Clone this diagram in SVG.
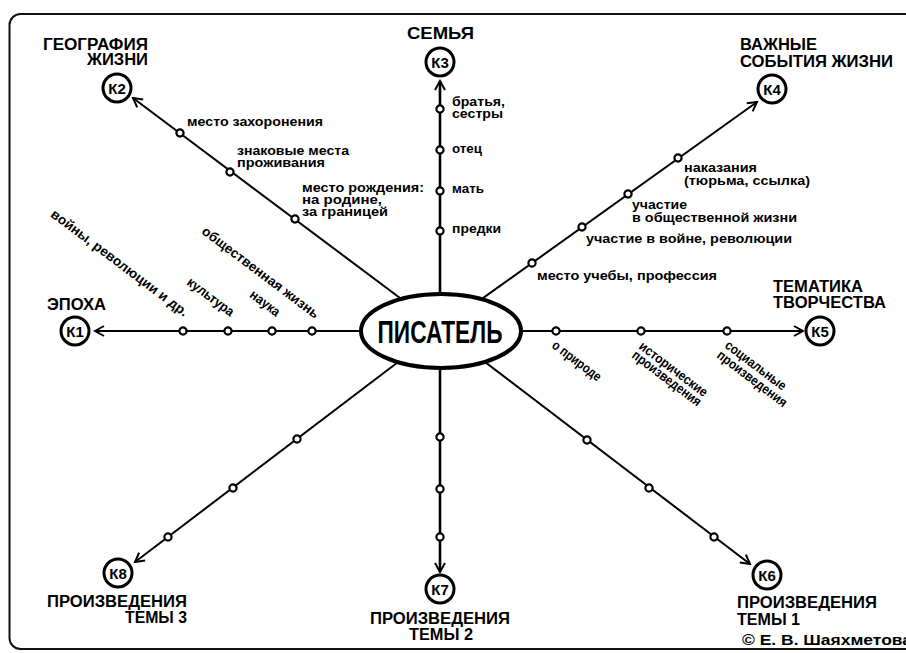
<svg xmlns="http://www.w3.org/2000/svg" width="906" height="653" viewBox="0 0 906 653">
<defs>
<marker id="arr" viewBox="0 0 12 12" refX="10" refY="6" markerWidth="12" markerHeight="12" markerUnits="userSpaceOnUse" orient="auto">
<path d="M1,1 L10,6 L1,11" fill="none" stroke="#000" stroke-width="2"/>
</marker>
<style>
text{font-family:"Liberation Sans",Arial,sans-serif;font-weight:bold;fill:#000}
.lbl{font-size:13px}
.rl{font-size:13.5px}
.hd{font-size:16px}
.kt{font-size:15px;text-anchor:middle}
.k{fill:#fff;stroke:#000;stroke-width:3}
.pt{fill:#fff;stroke:#000;stroke-width:2.2}
.conn line{stroke:#000;stroke-width:2;marker-end:url(#arr)}
.end{text-anchor:end}
.mid{text-anchor:middle}
</style>
</defs>
<rect x="9.5" y="14" width="940" height="635" rx="11" fill="#fff" stroke="#111" stroke-width="2"/>

<g id="connectors" class="conn">
<line x1="370" y1="331" x2="95" y2="331"/>
<line x1="410" y1="305.5" x2="133" y2="98"/>
<line x1="440" y1="300" x2="440" y2="81" style="stroke-width:2.6"/>
<line x1="470" y1="307.4" x2="757" y2="102"/>
<line x1="515" y1="331" x2="803" y2="331"/>
<line x1="470" y1="350.6" x2="750" y2="564"/>
<line x1="440" y1="360" x2="440" y2="572" style="stroke-width:2.6"/>
<line x1="410" y1="353" x2="135" y2="562"/>
</g>

<g id="writer">
<ellipse cx="441" cy="331" rx="80" ry="37" fill="#fff" stroke="#000" stroke-width="4"/>
<text x="440" y="343" class="mid" font-size="31" textLength="125" lengthAdjust="spacingAndGlyphs">ПИСАТЕЛЬ</text>
</g>

<g id="k1">
<circle class="k" cx="75" cy="331" r="14"/>
<text class="kt" x="75" y="336.5">К1</text>
<text class="hd" x="47" y="310" textLength="59" lengthAdjust="spacingAndGlyphs">ЭПОХА</text>
</g>
<g id="k2">
<circle class="k" cx="117" cy="88" r="14"/>
<text class="kt" x="117" y="93.5">К2</text>
<text class="hd end" x="148" y="50" textLength="105" lengthAdjust="spacingAndGlyphs">ГЕОГРАФИЯ</text>
<text class="hd end" x="148" y="65" textLength="61" lengthAdjust="spacingAndGlyphs">ЖИЗНИ</text>
</g>
<g id="k3">
<circle class="k" cx="440" cy="62" r="14"/>
<text class="kt" x="440" y="67.5">К3</text>
<text x="440.5" y="39" class="mid" font-size="17" textLength="67" lengthAdjust="spacingAndGlyphs">СЕМЬЯ</text>
</g>
<g id="k4">
<circle class="k" cx="772" cy="89" r="14"/>
<text class="kt" x="772" y="94.5">К4</text>
<text class="hd" x="740" y="50" textLength="77" lengthAdjust="spacingAndGlyphs">ВАЖНЫЕ</text>
<text class="hd" x="740" y="67" textLength="153" lengthAdjust="spacingAndGlyphs">СОБЫТИЯ ЖИЗНИ</text>
</g>
<g id="k5">
<circle class="k" cx="820" cy="331" r="14"/>
<text class="kt" x="820" y="336.5">К5</text>
<text class="hd" x="773" y="292" textLength="90" lengthAdjust="spacingAndGlyphs">ТЕМАТИКА</text>
<text class="hd" x="773" y="308" textLength="113" lengthAdjust="spacingAndGlyphs">ТВОРЧЕСТВА</text>
</g>
<g id="k6">
<circle class="k" cx="767" cy="575" r="14"/>
<text class="kt" x="767" y="580.5">К6</text>
<text class="hd" x="737" y="608" textLength="140" lengthAdjust="spacingAndGlyphs">ПРОИЗВЕДЕНИЯ</text>
<text class="hd" x="737" y="625" textLength="63" lengthAdjust="spacingAndGlyphs">ТЕМЫ 1</text>
</g>
<g id="k7">
<circle class="k" cx="440" cy="589" r="14"/>
<text class="kt" x="440" y="594.5">К7</text>
<text class="hd mid" x="440" y="624" textLength="140" lengthAdjust="spacingAndGlyphs">ПРОИЗВЕДЕНИЯ</text>
<text class="hd mid" x="441" y="640" textLength="64" lengthAdjust="spacingAndGlyphs">ТЕМЫ 2</text>
</g>
<g id="k8">
<circle class="k" cx="118" cy="573" r="14"/>
<text class="kt" x="118" y="578.5">К8</text>
<text class="hd" x="47" y="607" textLength="140" lengthAdjust="spacingAndGlyphs">ПРОИЗВЕДЕНИЯ</text>
<text class="hd end" x="187" y="623" textLength="62" lengthAdjust="spacingAndGlyphs">ТЕМЫ 3</text>
</g>

<g id="epoch-points">
<circle class="pt" cx="183" cy="331" r="3.6"/>
<circle class="pt" cx="228" cy="331" r="3.6"/>
<circle class="pt" cx="272" cy="331" r="3.6"/>
<circle class="pt" cx="312" cy="331" r="3.6"/>
<text class="rl end" transform="translate(184,317) rotate(37)" textLength="168" lengthAdjust="spacingAndGlyphs">войны, революции и др.</text>
<text class="rl end" transform="translate(230,317) rotate(37)" textLength="55" lengthAdjust="spacingAndGlyphs">культура</text>
<text class="rl end" transform="translate(276,317) rotate(37)" textLength="34" lengthAdjust="spacingAndGlyphs">наука</text>
<text class="rl end" transform="translate(315,319) rotate(37)" textLength="143" lengthAdjust="spacingAndGlyphs">общественная жизнь</text>
</g>

<g id="geo-points">
<circle class="pt" cx="180" cy="133" r="3.6"/>
<circle class="pt" cx="230" cy="172" r="3.6"/>
<circle class="pt" cx="295" cy="219" r="3.6"/>
<text class="lbl" x="187" y="126" textLength="136" lengthAdjust="spacingAndGlyphs">место захоронения</text>
<text class="lbl" x="237" y="154.5" textLength="112" lengthAdjust="spacingAndGlyphs">знаковые места</text>
<text class="lbl" x="237" y="166.5" textLength="88" lengthAdjust="spacingAndGlyphs">проживания</text>
<text class="lbl" x="302" y="192" textLength="122" lengthAdjust="spacingAndGlyphs">место рождения:</text>
<text class="lbl" x="302" y="204" textLength="80" lengthAdjust="spacingAndGlyphs">на родине,</text>
<text class="lbl" x="302" y="216" textLength="86" lengthAdjust="spacingAndGlyphs">за границей</text>
</g>

<g id="family-points">
<circle class="pt" cx="440" cy="109" r="3.6"/>
<circle class="pt" cx="440" cy="150" r="3.6"/>
<circle class="pt" cx="440" cy="191" r="3.6"/>
<circle class="pt" cx="440" cy="231" r="3.6"/>
<text class="lbl" x="452" y="106" textLength="53" lengthAdjust="spacingAndGlyphs">братья,</text>
<text class="lbl" x="452" y="118" textLength="51" lengthAdjust="spacingAndGlyphs">сестры</text>
<text class="lbl" x="452" y="153" textLength="30" lengthAdjust="spacingAndGlyphs">отец</text>
<text class="lbl" x="452" y="193" textLength="32" lengthAdjust="spacingAndGlyphs">мать</text>
<text class="lbl" x="452" y="233" textLength="49" lengthAdjust="spacingAndGlyphs">предки</text>
</g>

<g id="events-points">
<circle class="pt" cx="532" cy="263" r="3.6"/>
<circle class="pt" cx="582" cy="227" r="3.6"/>
<circle class="pt" cx="628" cy="194" r="3.6"/>
<circle class="pt" cx="678" cy="158" r="3.6"/>
<text class="lbl" x="684" y="172" textLength="73" lengthAdjust="spacingAndGlyphs">наказания</text>
<text class="lbl" x="684" y="184.5" textLength="126" lengthAdjust="spacingAndGlyphs">(тюрьма, ссылка)</text>
<text class="lbl" x="632" y="209" textLength="55" lengthAdjust="spacingAndGlyphs">участие</text>
<text class="lbl" x="632" y="221.5" textLength="165" lengthAdjust="spacingAndGlyphs">в общественной жизни</text>
<text class="lbl" x="586" y="243" textLength="206" lengthAdjust="spacingAndGlyphs">участие в войне, революции</text>
<text class="lbl" x="537" y="280" textLength="180" lengthAdjust="spacingAndGlyphs">место учебы, профессия</text>
</g>

<g id="themes-points">
<circle class="pt" cx="556" cy="331" r="3.6"/>
<circle class="pt" cx="641" cy="331" r="3.6"/>
<circle class="pt" cx="727" cy="331" r="3.6"/>
<text class="rl" transform="translate(551,347) rotate(37)" textLength="58" lengthAdjust="spacingAndGlyphs">о природе</text>
<text class="rl" transform="translate(638,348) rotate(37)" textLength="82" lengthAdjust="spacingAndGlyphs">исторические</text>
<text class="rl" transform="translate(631,357) rotate(37)" textLength="83" lengthAdjust="spacingAndGlyphs">произведения</text>
<text class="rl" transform="translate(724,347) rotate(37)" textLength="73" lengthAdjust="spacingAndGlyphs">социальные</text>
<text class="rl" transform="translate(716,357) rotate(37)" textLength="84" lengthAdjust="spacingAndGlyphs">произведения</text>
</g>

<g id="works1-points">
<circle class="pt" cx="587" cy="440" r="3.6"/>
<circle class="pt" cx="649" cy="488" r="3.6"/>
<circle class="pt" cx="714" cy="537" r="3.6"/>
</g>
<g id="works2-points">
<circle class="pt" cx="440" cy="437" r="3.6"/>
<circle class="pt" cx="440" cy="489" r="3.6"/>
<circle class="pt" cx="440" cy="537" r="3.6"/>
</g>
<g id="works3-points">
<circle class="pt" cx="297" cy="439" r="3.6"/>
<circle class="pt" cx="233" cy="488" r="3.6"/>
<circle class="pt" cx="168" cy="537" r="3.6"/>
</g>

<text x="742" y="645" font-size="15.5" textLength="170" lengthAdjust="spacingAndGlyphs">© Е. В. Шаяхметова</text>
</svg>
